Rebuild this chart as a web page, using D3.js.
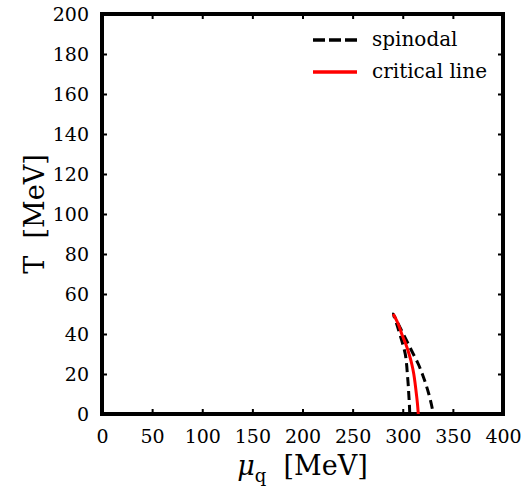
<!DOCTYPE html>
<html>
<head>
<meta charset="utf-8">
<script src="https://cdn.jsdelivr.net/npm/d3@7"></script>
<style>
  html, body { margin: 0; padding: 0; background: #fff; }
  svg { display: block; }
  .tick text { font-family: "DejaVu Serif", serif; font-size: 19px; fill: #000; }
</style>
</head>
<body>
<script>
// ---- data ----
const xTicks = [0, 50, 100, 150, 200, 250, 300, 350, 400];
const yTicks = [0, 20, 40, 60, 80, 100, 120, 140, 160, 180, 200];
const xDomain = [0, 400];
const yDomain = [0, 200];

// spinodal: closed curve from lower-left branch through the tip down the right branch
const spinodalMu = [307, 306.6, 306, 305.4, 304.6, 303.8, 302.5, 300, 297, 294, 290.5, 295.5, 300.5, 305.5, 310.5, 315.5, 319.5, 323, 326, 328.5, 330.5];
const spinodalT  = [0,   5,     10,  15,    20,    25,    30,    35,  40,  45,  50,    45,    40,    35,    30,    25,    20,    15,  10,  5,     0];

// critical line
const criticalMu = [290.5, 295.5, 299, 303, 306.3, 309, 311, 312.4, 313.6, 314.7, 315.5];
const criticalT  = [50,    45,    40,  35,  30,    25,  20,  15,    10,    5,     0];

const legendLabels = ["spinodal", "critical line"];

// ---- layout ----
const W = 525, H = 488;
const margin = { left: 102, right: 22, top: 14, bottom: 74 };
const iw = W - margin.left - margin.right;
const ih = H - margin.top - margin.bottom;

const svg = d3.select("body").append("svg").attr("width", W).attr("height", H);
const g = svg.append("g").attr("transform", `translate(${margin.left},${margin.top})`);

const x = d3.scaleLinear().domain(xDomain).range([0, iw]);
const y = d3.scaleLinear().domain(yDomain).range([ih, 0]);

// axes with inward ticks
const ax = g.append("g").attr("transform", `translate(0,${ih})`)
  .call(d3.axisBottom(x).tickValues(xTicks).tickSize(-5).tickPadding(16).tickFormat(d3.format("d")));
const ay = g.append("g")
  .call(d3.axisLeft(y).tickValues(yTicks).tickSize(-5).tickPadding(13).tickFormat(d3.format("d")));
const axT = g.append("g")
  .call(d3.axisTop(x).tickValues(xTicks).tickSize(-5).tickFormat(""));
const ayR = g.append("g").attr("transform", `translate(${iw},0)`)
  .call(d3.axisRight(y).tickValues(yTicks).tickSize(-5).tickFormat(""));

[ax, ay, axT, ayR].forEach(a => {
  a.select(".domain").remove();
  a.selectAll(".tick line").attr("stroke", "#000").attr("stroke-width", 2);
});

// frame
g.append("rect").attr("x", 0).attr("y", 0).attr("width", iw).attr("height", ih)
  .attr("fill", "none").attr("stroke", "#000").attr("stroke-width", 4);

// curves
const lineC = d3.line().x(d => x(d[0])).y(d => y(d[1])).curve(d3.curveCatmullRom);

g.append("path")
  .datum(spinodalMu.map((m, i) => [m, spinodalT[i]]))
  .attr("d", lineC)
  .attr("fill", "none").attr("stroke", "#000").attr("stroke-width", 3)
  .attr("stroke-dasharray", "9,5");

g.append("path")
  .datum(criticalMu.map((m, i) => [m, criticalT[i]]))
  .attr("d", lineC)
  .attr("fill", "none").attr("stroke", "#ff0000").attr("stroke-width", 3);

// legend
const leg = svg.append("g");
const legItems = [
  { label: legendLabels[0], color: "#000", dash: "12,4", y: 40 },
  { label: legendLabels[1], color: "#ff0000", dash: null, y: 72 }
];
legItems.forEach(it => {
  leg.append("line").attr("x1", 313).attr("x2", 357).attr("y1", it.y).attr("y2", it.y)
    .attr("stroke", it.color).attr("stroke-width", 3.5)
    .attr("stroke-dasharray", it.dash);
  leg.append("text").attr("x", 372).attr("y", it.y).attr("dy", "0.32em")
    .style("font-family", "DejaVu Serif, serif").style("font-size", "20px")
    .text(it.label);
});

// axis titles
const xt = svg.append("text")
  .attr("x", margin.left + iw / 2).attr("y", 475)
  .attr("text-anchor", "middle")
  .style("font-family", "DejaVu Serif, serif").style("font-size", "27px");
xt.append("tspan").style("font-style", "italic").text("μ");
xt.append("tspan").attr("dy", 7).style("font-size", "18px").text("q");
xt.append("tspan").attr("dy", -7).text("\u00a0\u00a0[MeV]");

svg.append("text")
  .attr("transform", `translate(44,${margin.top + ih / 2}) rotate(-90)`)
  .attr("text-anchor", "middle")
  .style("font-family", "DejaVu Serif, serif").style("font-size", "27px")
  .text("T\u00a0\u00a0[MeV]");
</script>
</body>
</html>
